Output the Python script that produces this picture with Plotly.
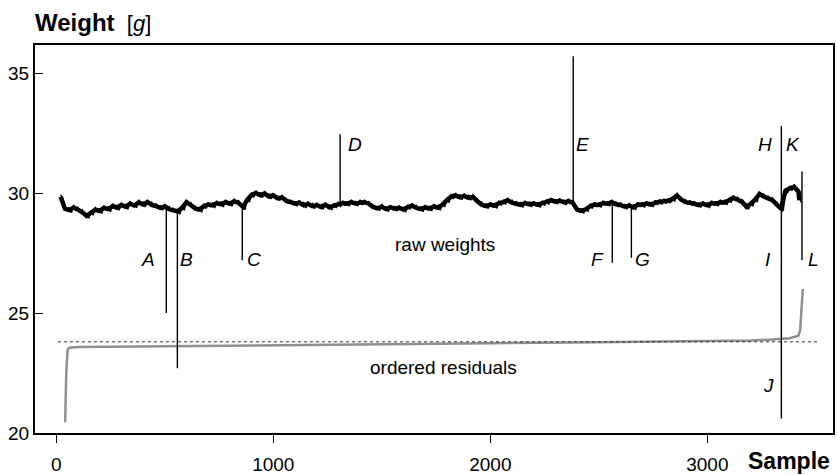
import plotly.graph_objects as go

# ---------------- data ----------------
# raw weights: upper and lower edge of the noisy band, read every 20 samples
raw_x = list(range(20, 3421, 20)) + [3424]
raw_hi = [
    29.92, 29.45, 29.40, 29.50, 29.42,
    29.30, 29.14, 29.28, 29.42, 29.36,
    29.48, 29.44, 29.56, 29.50, 29.60,
    29.54, 29.66, 29.58, 29.72, 29.62,
    29.72, 29.62, 29.56, 29.48, 29.54,
    29.44, 29.38, 29.34, 29.50, 29.72,
    29.60, 29.46, 29.42, 29.56, 29.62,
    29.60, 29.68, 29.64, 29.72, 29.66,
    29.76, 29.70, 29.55, 29.82, 30.02,
    30.10, 30.02, 30.08, 29.96, 30.00,
    29.88, 29.92, 29.78, 29.72, 29.66,
    29.70, 29.60, 29.65, 29.56, 29.60,
    29.52, 29.62, 29.50, 29.58, 29.64,
    29.68, 29.66, 29.72, 29.66, 29.72,
    29.72, 29.66, 29.52, 29.46, 29.54,
    29.44, 29.50, 29.46, 29.48, 29.42,
    29.52, 29.58, 29.48, 29.44, 29.50,
    29.46, 29.54, 29.50, 29.62, 29.80,
    29.96, 30.00, 29.92, 29.98, 29.90,
    29.94, 29.76, 29.62, 29.56, 29.62,
    29.58, 29.68, 29.72, 29.80, 29.70,
    29.66, 29.62, 29.68, 29.64, 29.66,
    29.62, 29.68, 29.74, 29.80, 29.74,
    29.78, 29.72, 29.76, 29.70, 29.42,
    29.36, 29.42, 29.56, 29.62, 29.60,
    29.68, 29.66, 29.72, 29.64, 29.60,
    29.54, 29.58, 29.50, 29.62, 29.62,
    29.66, 29.62, 29.70, 29.74, 29.76,
    29.78, 29.86, 30.00, 29.82, 29.72,
    29.70, 29.66, 29.60, 29.66, 29.60,
    29.68, 29.66, 29.72, 29.72, 29.80,
    29.90, 29.82, 29.74, 29.54, 29.66,
    29.82, 30.06, 29.96, 29.88, 29.80,
    29.62, 29.46, 30.20, 30.30, 30.36,
    30.16, 29.80,
]
raw_lo = [
    29.78, 29.25, 29.18, 29.30, 29.20,
    29.10, 28.95, 29.08, 29.20, 29.15,
    29.28, 29.22, 29.35, 29.28, 29.40,
    29.32, 29.45, 29.38, 29.50, 29.42,
    29.52, 29.40, 29.35, 29.28, 29.34,
    29.22, 29.18, 29.12, 29.28, 29.52,
    29.40, 29.25, 29.20, 29.35, 29.42,
    29.38, 29.48, 29.42, 29.52, 29.45,
    29.56, 29.48, 29.30, 29.62, 29.82,
    29.90, 29.80, 29.88, 29.75, 29.80,
    29.68, 29.72, 29.56, 29.52, 29.45,
    29.50, 29.38, 29.45, 29.35, 29.40,
    29.32, 29.40, 29.30, 29.38, 29.42,
    29.48, 29.45, 29.52, 29.46, 29.50,
    29.52, 29.45, 29.32, 29.26, 29.32,
    29.22, 29.30, 29.24, 29.28, 29.20,
    29.32, 29.36, 29.28, 29.22, 29.30,
    29.25, 29.34, 29.28, 29.42, 29.60,
    29.75, 29.80, 29.72, 29.78, 29.70,
    29.74, 29.56, 29.40, 29.35, 29.42,
    29.36, 29.48, 29.52, 29.60, 29.50,
    29.45, 29.40, 29.48, 29.42, 29.46,
    29.40, 29.48, 29.52, 29.60, 29.54,
    29.58, 29.50, 29.56, 29.48, 29.20,
    29.15, 29.22, 29.35, 29.42, 29.40,
    29.48, 29.45, 29.52, 29.42, 29.40,
    29.32, 29.38, 29.30, 29.42, 29.40,
    29.46, 29.42, 29.50, 29.52, 29.56,
    29.58, 29.65, 29.80, 29.62, 29.52,
    29.48, 29.45, 29.40, 29.46, 29.38,
    29.48, 29.45, 29.52, 29.50, 29.60,
    29.70, 29.62, 29.52, 29.32, 29.45,
    29.62, 29.85, 29.75, 29.68, 29.60,
    29.42, 29.25, 30.00, 30.10, 30.15,
    29.95, 29.60,
]

# outliers (spikes) in the raw weights
spike_labels = ["A", "B", "C", "D", "E", "F", "G", "H", "J", "K", "L"]
spike_x = [507, 558, 857, 1308, 2382, 2562, 2650, 3341, 3341, 3436, 3436]
spike_y = [25.0, 22.7, 27.2, 32.45, 35.7, 27.1, 27.3, 32.8, 20.6, 30.9, 27.2]

# ordered residuals curve
res_x = [41, 46, 52, 60, 100, 300, 600, 1000, 1500, 2000, 2500, 3000, 3200,
         3300, 3380, 3420, 3428, 3434, 3440]
res_y = [20.45, 22.5, 23.45, 23.55, 23.58, 23.60, 23.62, 23.66, 23.70, 23.74,
         23.78, 23.82, 23.86, 23.90, 23.95, 24.05, 24.3, 25.2, 26.0]

# reference level for the residuals
ref_x = [8, 3511]
ref_y = [23.8, 23.8]

x_ticks = [0, 1000, 2000, 3000]
y_ticks = [20, 25, 30, 35]

outlier_labels = ["A", "B", "C", "D", "E", "F", "G", "H", "I", "J", "K", "L"]

# ---------------- build ----------------
# noisy band drawn by alternating between upper and lower edge
band_x, band_y = [], []
for i, xv in enumerate(raw_x):
    band_x += [xv, xv + 10]
    band_y += [raw_hi[i], raw_lo[i]]

centre = [(h + l) / 2 for h, l in zip(raw_hi, raw_lo)]

def base_at(s):
    j = min(range(len(raw_x)), key=lambda k: abs(raw_x[k] - s))
    return centre[j]

sp_x, sp_y = [], []
for s, v in zip(spike_x, spike_y):
    sp_x += [s, s, None]
    sp_y += [base_at(s), v, None]

FONT = "Liberation Sans, Arial, Helvetica, sans-serif"

fig = go.Figure()
fig.add_trace(go.Scatter(x=res_x, y=res_y, mode="lines",
                         line=dict(color="#8f8f8f", width=2.5), hoverinfo="skip"))
fig.add_trace(go.Scatter(x=ref_x, y=ref_y, mode="lines",
                         line=dict(color="#333333", width=1, dash="dot"), hoverinfo="skip"))
fig.add_trace(go.Scatter(x=raw_x, y=centre, mode="lines",
                         line=dict(color="black", width=4.5, simplify=False),
                         hoverinfo="skip"))
fig.add_trace(go.Scatter(x=band_x, y=band_y, mode="lines",
                         line=dict(color="black", width=1.4, simplify=False),
                         hoverinfo="skip"))
fig.add_trace(go.Scatter(x=sp_x, y=sp_y, mode="lines", connectgaps=False,
                         line=dict(color="black", width=1.4), hoverinfo="skip"))

# label positions (layout): x in samples, y in grams
label_pos = {
    "A": (423, 27.25), "B": (602, 27.25), "C": (911, 27.25),
    "D": (1376, 32.04), "E": (2427, 32.04), "F": (2492, 27.25),
    "G": (2699, 27.25), "H": (3266, 32.04), "I": (3280, 27.25),
    "J": (3280, 21.96), "K": (3395, 32.04), "L": (3487, 27.25),
}
annos = []
for lab in outlier_labels:
    lx, ly = label_pos[lab]
    annos.append(dict(x=lx, y=ly, text=f"<i>{lab}</i>", showarrow=False,
                      font=dict(size=19, color="black", family=FONT),
                      xanchor="center", yanchor="middle"))
annos.append(dict(x=1791, y=27.875, text="raw weights", showarrow=False,
                  font=dict(size=19, color="black", family=FONT)))
annos.append(dict(x=1782, y=22.75, text="ordered residuals", showarrow=False,
                  font=dict(size=19, color="black", family=FONT)))
annos.append(dict(xref="paper", yref="paper", x=-0.003, y=1.059,
                  xanchor="left", yanchor="middle", showarrow=False,
                  text="<b><span style='font-size:24px'>Weight</span></b>  [<i>g</i>]",
                  font=dict(size=22, color="black", family=FONT)))
annos.append(dict(xref="paper", yref="paper", x=0.999, y=-0.072,
                  xanchor="right", yanchor="middle", showarrow=False,
                  text="<b>Sample</b>",
                  font=dict(size=23, color="black", family=FONT)))

fig.update_layout(
    width=837, height=475,
    margin=dict(l=35, r=4, t=45, b=42),
    paper_bgcolor="white", plot_bgcolor="white",
    showlegend=False,
    font=dict(family=FONT, size=19, color="black"),
    annotations=annos,
    xaxis=dict(range=[-98, 3579], tickvals=x_ticks, ticks="outside", ticklen=8,
               tickcolor="black", tickwidth=1, showline=True, linecolor="black",
               linewidth=2, mirror=True, showgrid=False, zeroline=False,
               automargin=False, ticklabelstandoff=5, tickfont=dict(size=19)),
    yaxis=dict(range=[20, 36.17], tickvals=y_ticks, ticks="inside", ticklen=8,
               tickcolor="black", tickwidth=1, showline=True, linecolor="black",
               linewidth=2, mirror=True, showgrid=False, zeroline=False,
               automargin=False, tickfont=dict(size=19)),
)

fig.write_html("out.html")
